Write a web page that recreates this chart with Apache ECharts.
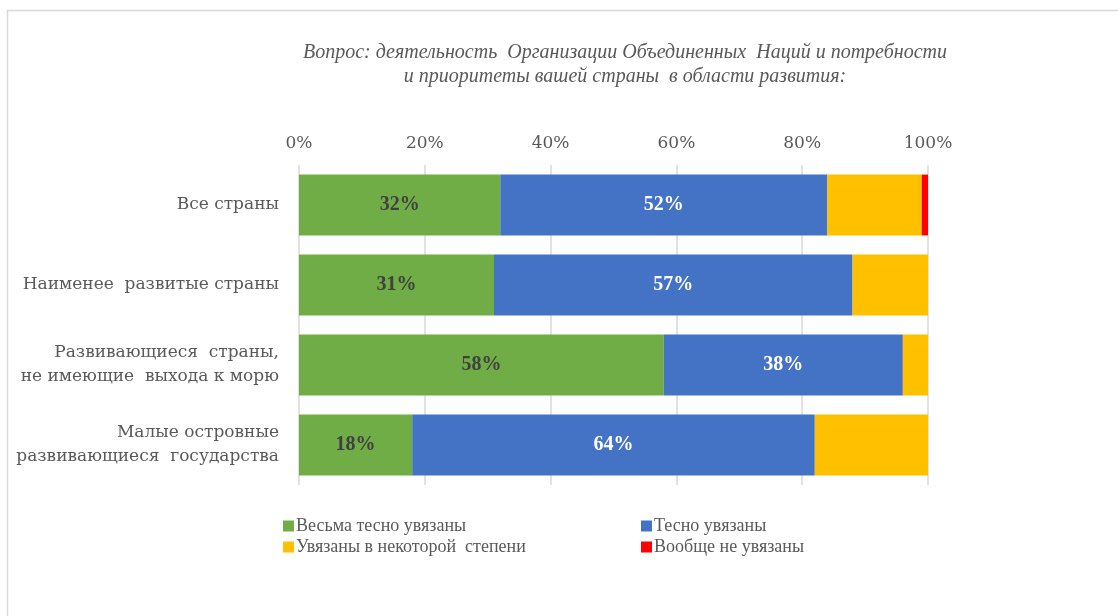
<!DOCTYPE html>
<html><head><meta charset="utf-8">
<script src="https://cdn.jsdelivr.net/npm/echarts@6/dist/echarts.min.js"></script>
<style>html,body{margin:0;padding:0;background:#fff}#c{width:1118px;height:616px}</style>
</head><body><div id="c"></div>
<script>
const categories = ['Все страны', 'Наименее  развитые страны', 'Развивающиеся  страны,\nне имеющие  выхода к морю', 'Малые островные\nразвивающиеся  государства'];
const seriesNames = ['Весьма тесно увязаны', 'Тесно увязаны', 'Увязаны в некоторой  степени', 'Вообще не увязаны'];
const veryClose = [32, 31, 58, 18];
const close = [52, 57, 38, 64];
const somewhat = [15, 12, 4, 18];
const notAtAll = [1, 0, 0, 0];
const xTicks = [0, 20, 40, 60, 80, 100];
const titleLines = ['Вопрос: деятельность  Организации Объединенных  Наций и потребности', 'и приоритеты вашей страны  в области развития:'];

const colors = ['#70ad47', '#4472c4', '#ffc000', '#ff0000'];
const serif = '"Liberation Serif", "DejaVu Serif", serif';
const wide = '"DejaVu Serif", "Liberation Serif", serif';
const values = [veryClose, close, somewhat, notAtAll];
const labelColors = ['#404040', '#ffffff', null, null];

const chart = echarts.init(document.getElementById('c'), null, {renderer: 'canvas'});
const legendPos = [[278, 512], [636, 512], [278, 533], [636, 533]];
chart.setOption({
  animation: false,
  graphic: [{type: 'rect', shape: {x: 7.5, y: 10.5, width: 1200, height: 700}, style: {fill: 'none', stroke: '#d9d9d9', lineWidth: 1.5}}],
  title: {
    text: titleLines.join('\n'), left: 620, top: 36, textAlign: 'center',
    textStyle: {fontFamily: serif, fontStyle: 'italic', fontWeight: 'normal', fontSize: 20, color: '#595959', lineHeight: 24}
  },
  grid: {left: 299, right: 190, top: 165, bottom: 131, containLabel: false},
  xAxis: {
    type: 'value', position: 'top', min: 0, max: 100, interval: 20,
    axisLine: {show: false}, axisTick: {show: false},
    axisLabel: {formatter: v => xTicks.includes(v) ? v + '%' : '', fontFamily: wide, fontSize: 17, color: '#595959', margin: 13},
    splitLine: {lineStyle: {color: '#d9d9d9', width: 1.5}}
  },
  yAxis: {
    type: 'category', data: categories, inverse: true,
    axisLine: {show: false}, axisTick: {show: false},
    axisLabel: {fontFamily: wide, fontSize: 17, color: '#595959', lineHeight: 24, margin: 20, align: 'right', padding: [5, 0, 0, 0]}
  },
  legend: legendPos.map((p, i) => ({
    data: [seriesNames[i]], left: p[0], top: p[1], itemWidth: 11, itemHeight: 11, itemGap: 0,
    icon: 'rect', textStyle: {fontFamily: serif, fontSize: 18, color: '#595959', padding: [0, 0, 0, -3]}
  })),
  series: values.map((arr, i) => ({
    name: seriesNames[i], type: 'bar', stack: 'total', data: arr, barCategoryGap: '24%',
    itemStyle: {color: colors[i]},
    label: labelColors[i] ? {show: true, position: 'inside', formatter: '{c}%', fontFamily: serif, fontWeight: 'bold', fontSize: 20, color: labelColors[i], padding: [4, 0, 0, 0]} : {show: false}
  }))
});
</script></body></html>
